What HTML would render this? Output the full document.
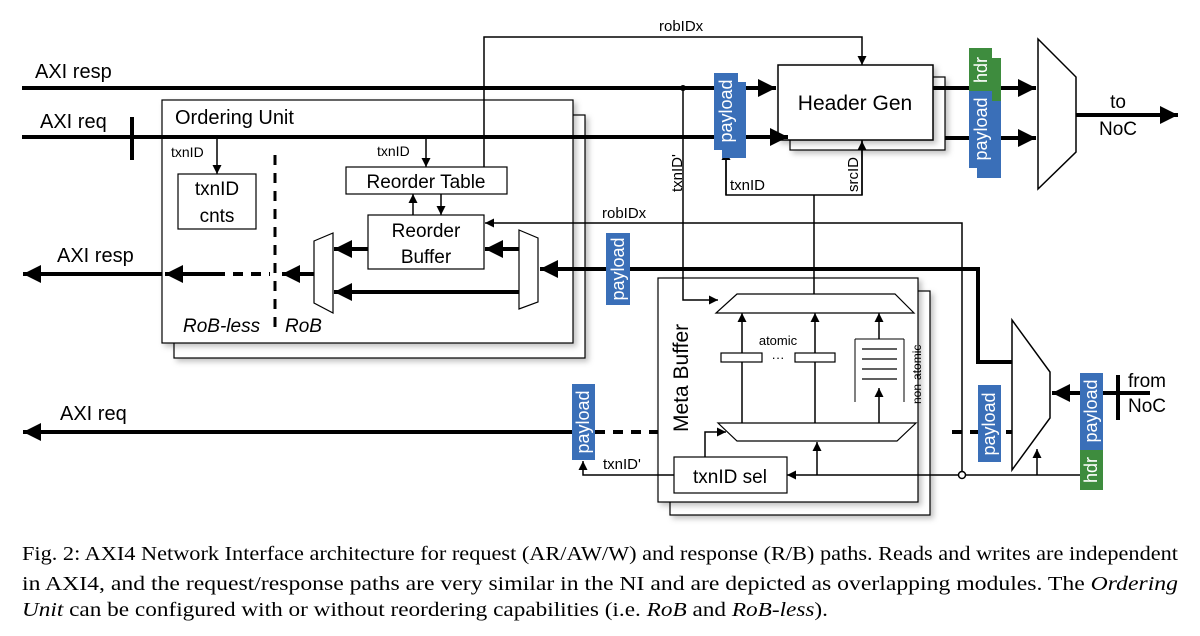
<!DOCTYPE html>
<html><head><meta charset="utf-8"><style>
html,body{margin:0;padding:0;background:#fff;}
svg{display:block;}
.s{font-family:"Liberation Sans","DejaVu Sans",sans-serif;}
.cap{font-family:"Liberation Serif",serif;font-size:19.5px;}
</style></head><body>
<svg width="1200" height="636" viewBox="0 0 1200 636" xmlns="http://www.w3.org/2000/svg">
<defs>
<marker id="A" viewBox="0 0 10 10" refX="10" refY="5" markerWidth="18" markerHeight="18" markerUnits="userSpaceOnUse" orient="auto"><path d="M0,0L10,5L0,10z" fill="#000"/></marker>
<marker id="B" viewBox="0 0 10 10" refX="10" refY="5" markerWidth="9" markerHeight="9" markerUnits="userSpaceOnUse" orient="auto"><path d="M0,0L10,5L0,10z" fill="#000"/></marker>
<filter id="sh" x="-10%" y="-10%" width="130%" height="130%"><feDropShadow dx="3" dy="3" stdDeviation="3" flood-color="#000" flood-opacity="0.25"/></filter>
</defs>
<g fill="none" stroke="#000">
<rect x="174" y="115" width="411" height="243" fill="#fff" stroke-width="1.2" filter="url(#sh)"/>
<rect x="162" y="100" width="411" height="243" fill="#fff" stroke-width="1.2" filter="url(#sh)"/>
<rect x="670" y="291" width="260" height="224" fill="#fff" stroke-width="1.2" filter="url(#sh)"/>
<rect x="658" y="278" width="260" height="224" fill="#fff" stroke-width="1.2" filter="url(#sh)"/>
<rect x="790" y="77" width="155" height="73" fill="#fff" stroke-width="1.2" filter="url(#sh)"/>
<rect x="778" y="65" width="155" height="75" fill="#fff" stroke-width="1.5" filter="url(#sh)"/>

<line x1="22" y1="88" x2="776" y2="88" stroke-width="4" marker-end="url(#A)"/>
<line x1="22" y1="137" x2="788" y2="137" stroke-width="4" marker-end="url(#A)"/>
<line x1="132" y1="117" x2="132" y2="160" stroke-width="4"/>
<line x1="933" y1="88" x2="1036" y2="88" stroke-width="4" marker-end="url(#A)"/>
<line x1="945" y1="138" x2="1036" y2="138" stroke-width="4" marker-end="url(#A)"/>
<polygon points="1038,39 1076,77 1076,152 1038,189" fill="#fff" stroke-width="1.5"/>
<line x1="1076" y1="115" x2="1178" y2="115" stroke-width="4" marker-end="url(#A)"/>

<polyline points="484,167 484,37 862,37 862,65" stroke-width="1.5" marker-end="url(#B)"/>
<polyline points="683,88 683,300 718,300" stroke-width="1.5" marker-end="url(#B)"/>
<polyline points="726,150 726,195 862,195 862,140" stroke-width="1.5"/>
<line x1="726" y1="195" x2="726" y2="151" stroke-width="1.5" marker-end="url(#B)"/>
<line x1="862" y1="195" x2="862" y2="141" stroke-width="1.5" marker-end="url(#B)"/>
<line x1="814" y1="195" x2="814" y2="294" stroke-width="1.5"/>

<rect x="178" y="174" width="78" height="55" fill="#fff" stroke-width="1.2"/>
<line x1="217" y1="137" x2="217" y2="174" stroke-width="1.5" marker-end="url(#B)"/>
<line x1="275" y1="155" x2="275" y2="335" stroke-width="3" stroke-dasharray="10,8"/>
<rect x="346" y="167" width="161" height="27" fill="#fff" stroke-width="1.2"/>
<line x1="426" y1="137" x2="426" y2="167" stroke-width="1.5" marker-end="url(#B)"/>
<rect x="368" y="215" width="116" height="54" fill="#fff" stroke-width="1.2"/>
<line x1="413" y1="215" x2="413" y2="194" stroke-width="1.5" marker-end="url(#B)"/>
<line x1="441" y1="194" x2="441" y2="215" stroke-width="1.5" marker-end="url(#B)"/>
<polygon points="314,241 333,233 333,313 314,303" fill="#fff" stroke-width="1.2"/>
<polygon points="519,230 538,238 538,302 519,309" fill="#fff" stroke-width="1.2"/>
<line x1="368" y1="249" x2="334" y2="249" stroke-width="4" marker-end="url(#A)"/>
<line x1="519" y1="249" x2="485" y2="249" stroke-width="4" marker-end="url(#A)"/>
<line x1="519" y1="292" x2="334" y2="292" stroke-width="4" marker-end="url(#A)"/>
<line x1="314" y1="274" x2="282" y2="274" stroke-width="4" marker-end="url(#A)"/>
<line x1="215" y1="274" x2="270" y2="274" stroke-width="4" stroke-dasharray="10,8"/>
<line x1="215" y1="274" x2="165" y2="274" stroke-width="4" marker-end="url(#A)"/>
<line x1="162" y1="274" x2="23" y2="274" stroke-width="4" marker-end="url(#A)"/>
<polyline points="962,475 962,223 485,223" stroke-width="1.5" marker-end="url(#B)"/>
<polyline points="1012,362 978,362 978,269 540,269" stroke-width="4" marker-end="url(#A)"/>

<polygon points="1012,320 1050,372 1050,418 1012,470" fill="#fff" stroke-width="1.5"/>
<line x1="1150" y1="393" x2="1052" y2="393" stroke-width="4" marker-end="url(#A)"/>
<line x1="1118" y1="375" x2="1118" y2="420" stroke-width="4"/>
<line x1="952" y1="432" x2="1012" y2="432" stroke-width="4" stroke-dasharray="10,8"/>
<line x1="595" y1="432" x2="658" y2="432" stroke-width="4" stroke-dasharray="10,8"/>
<line x1="595" y1="432" x2="23" y2="432" stroke-width="4" marker-end="url(#A)"/>

<polygon points="737,294 895,294 914,313 716,313" fill="#fff" stroke-width="1.2"/>
<polygon points="718,423 916,423 897,441 737,441" fill="#fff" stroke-width="1.2"/>
<line x1="742" y1="423" x2="742" y2="313" stroke-width="1.5" marker-end="url(#B)"/>
<line x1="815" y1="423" x2="815" y2="313" stroke-width="1.5" marker-end="url(#B)"/>
<line x1="879" y1="423" x2="879" y2="388" stroke-width="1.5" marker-end="url(#B)"/>
<line x1="879" y1="339" x2="879" y2="313" stroke-width="1.5" marker-end="url(#B)"/>
<rect x="721" y="353" width="41" height="9" fill="#fff" stroke-width="1.2"/>
<rect x="795" y="353" width="40" height="9" fill="#fff" stroke-width="1.2"/>
<polyline points="855,339 855,402" stroke-width="1"/>
<polyline points="904,339 904,402" stroke-width="1"/>
<line x1="855" y1="339" x2="904" y2="339" stroke-width="1"/>
<line x1="862" y1="349" x2="897" y2="349" stroke-width="1.2"/>
<line x1="862" y1="359" x2="897" y2="359" stroke-width="1.2"/>
<line x1="862" y1="369" x2="897" y2="369" stroke-width="1.2"/>
<line x1="862" y1="379" x2="897" y2="379" stroke-width="1.2"/>
<rect x="674" y="457" width="113" height="36" fill="#fff" stroke-width="1.2"/>
<line x1="962" y1="475" x2="787" y2="475" stroke-width="1.5" marker-end="url(#B)"/>
<line x1="817" y1="475" x2="817" y2="442" stroke-width="1.5" marker-end="url(#B)"/>
<polyline points="705,457 705,432 726,432" stroke-width="1.5" marker-end="url(#B)"/>
<polyline points="674,475 583,475 583,461" stroke-width="1.5" marker-end="url(#B)"/>
<line x1="962" y1="475" x2="1080" y2="475" stroke-width="1.5"/>
<line x1="1037" y1="475" x2="1037" y2="449" stroke-width="1.5" marker-end="url(#B)"/>
<circle cx="962" cy="475" r="3.5" fill="#fff" stroke-width="1.5"/>
</g>
<circle cx="683" cy="88" r="3" fill="#000"/>

<g>
<rect x="722" y="82" width="24" height="76" fill="#3a6fb8"/>
<rect x="714" y="73" width="24" height="77" fill="#3a6fb8"/>
<rect x="977" y="58" width="24" height="50" fill="#3e8c3e"/>
<rect x="977" y="101" width="24" height="77" fill="#3a6fb8"/>
<rect x="969" y="48" width="23" height="43" fill="#3e8c3e"/>
<rect x="969" y="91" width="23" height="77" fill="#3a6fb8"/>
<rect x="606" y="233" width="24" height="72" fill="#3a6fb8"/>
<rect x="572" y="384" width="23" height="76" fill="#3a6fb8"/>
<rect x="978" y="385" width="23" height="77" fill="#3a6fb8"/>
<rect x="1080" y="373" width="23" height="77" fill="#3a6fb8"/>
<rect x="1080" y="450" width="23" height="40" fill="#3e8c3e"/>
</g>
<g class="s" fill="#fff" font-size="18">
<text transform="translate(732,111) rotate(-90)" text-anchor="middle">payload</text>
<text transform="translate(987,70) rotate(-90)" text-anchor="middle">hdr</text>
<text transform="translate(987,129) rotate(-90)" text-anchor="middle">payload</text>
<text transform="translate(624,269) rotate(-90)" text-anchor="middle">payload</text>
<text transform="translate(589,422) rotate(-90)" text-anchor="middle">payload</text>
<text transform="translate(995,424) rotate(-90)" text-anchor="middle">payload</text>
<text transform="translate(1097,411) rotate(-90)" text-anchor="middle">payload</text>
<text transform="translate(1097,470) rotate(-90)" text-anchor="middle">hdr</text>
</g>

<g class="s" fill="#000">
<text x="35" y="78" font-size="20">AXI resp</text>
<text x="40" y="128" font-size="20">AXI req</text>
<text x="57" y="262" font-size="20">AXI resp</text>
<text x="60" y="420" font-size="20">AXI req</text>
<text x="175" y="124" font-size="20">Ordering Unit</text>
<text x="171" y="157" font-size="14">txnID</text>
<text x="377" y="156" font-size="14">txnID</text>
<text x="217" y="195" font-size="19" text-anchor="middle">txnID</text>
<text x="217" y="222" font-size="19" text-anchor="middle">cnts</text>
<text x="426" y="188" font-size="19" text-anchor="middle">Reorder Table</text>
<text x="426" y="237" font-size="19" text-anchor="middle">Reorder</text>
<text x="426" y="263" font-size="19" text-anchor="middle">Buffer</text>
<text x="183" y="332" font-size="19" font-style="italic">RoB-less</text>
<text x="285" y="332" font-size="19" font-style="italic">RoB</text>
<text x="659" y="31" font-size="15">robIDx</text>
<text x="602" y="218" font-size="15">robIDx</text>
<text x="855" y="110" font-size="21" text-anchor="middle">Header Gen</text>
<text x="1118" y="108" font-size="19" text-anchor="middle">to</text>
<text x="1118" y="135" font-size="19" text-anchor="middle">NoC</text>
<text x="1128" y="387" font-size="19">from</text>
<text x="1128" y="412" font-size="19">NoC</text>
<text transform="translate(682,192) rotate(-90)" font-size="15">txnID'</text>
<text x="730" y="190" font-size="15">txnID</text>
<text transform="translate(858,192) rotate(-90)" font-size="15">srcID</text>
<text transform="translate(688,432) rotate(-90)" font-size="21">Meta Buffer</text>
<text x="778" y="345" font-size="13" text-anchor="middle">atomic</text>
<text x="778" y="362" font-size="13" text-anchor="middle">···</text>
<text transform="translate(921,404) rotate(-90)" font-size="12">non-atomic</text>
<text x="730" y="483" font-size="19" text-anchor="middle">txnID sel</text>
<text x="603" y="469" font-size="15">txnID'</text>
</g>

<g class="cap" fill="#000">
<text x="22" y="560" textLength="1156" lengthAdjust="spacingAndGlyphs">Fig. 2: AXI4 Network Interface architecture for request (AR/AW/W) and response (R/B) paths. Reads and writes are independent</text>
<text x="22" y="590" textLength="1156" lengthAdjust="spacingAndGlyphs">in AXI4, and the request/response paths are very similar in the NI and are depicted as overlapping modules. The <tspan font-style="italic">Ordering</tspan></text>
<text x="22" y="616" textLength="806" lengthAdjust="spacingAndGlyphs"><tspan font-style="italic">Unit</tspan> can be configured with or without reordering capabilities (i.e. <tspan font-style="italic">RoB</tspan> and <tspan font-style="italic">RoB-less</tspan>).</text>
</g>
</svg>
</body></html>
